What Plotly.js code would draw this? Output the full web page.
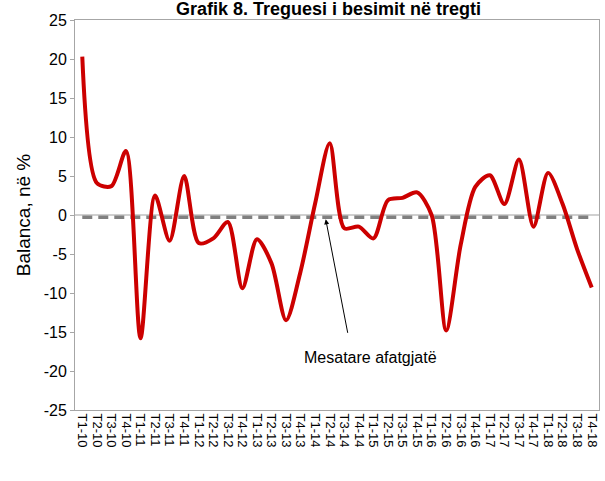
<!DOCTYPE html>
<html>
<head>
<meta charset="utf-8">
<script src="https://cdn.plot.ly/plotly-3.0.1.min.js"></script>
<style>html,body{margin:0;padding:0;background:#fff;}#chart{width:605px;height:481px;}</style>
</head>
<body>
<div id="chart"></div>
<script>
var categories = ["T1-10","T2-10","T3-10","T4-10","T1-11","T2-11","T3-11","T4-11","T1-12","T2-12","T3-12","T4-12",
  "T1-13","T2-13","T3-13","T4-13","T1-14","T2-14","T3-14","T4-14","T1-15","T2-15","T3-15","T4-15",
  "T1-16","T2-16","T3-16","T4-16","T1-17","T2-17","T3-17","T4-17","T1-18","T2-18","T3-18","T4-18"];
var balance = [20.3,4.1,3.7,8.2,-15.8,2.5,-3.3,5.0,-3.6,-3.0,-0.9,-9.4,
  -3.1,-6.2,-13.5,-7.2,1.5,9.2,-1.7,-1.5,-3.0,1.9,2.2,2.9,
  0.0,-14.8,-3.8,3.6,5.1,1.4,7.1,-1.5,5.4,1.4,-4.4,-9.3];
var longTermMean = -0.3;
var yTickVals = [-25,-20,-15,-10,-5,0,5,10,15,20,25];
var yTickText = ["-25","-20","-15","-10","-5","0","5","10","15","20","25"];
var meanLine = categories.map(function(){ return longTermMean; });

var traces = [
  {x: categories, y: meanLine, type: 'scatter', mode: 'lines',
   line: {color: '#808080', width: 3.5, dash: '10px,6px'}, hoverinfo: 'skip'},
  {x: categories, y: balance, type: 'scatter', mode: 'lines',
   line: {color: '#cc0000', width: 4, shape: 'spline', smoothing: 0.8}}
];

var FONT = "'Liberation Sans', Arial, sans-serif";
var layout = {
  width: 605, height: 481,
  margin: {l: 75, r: 6, t: 20, b: 71},
  paper_bgcolor: '#fff', plot_bgcolor: '#fff',
  showlegend: false,
  font: {family: FONT, color: '#000'},
  xaxis: {type: 'category', range: [-0.5, 35.5], tickangle: 90,
          tickmode: 'array', tickvals: categories, ticktext: categories,
          tickfont: {size: 13}, showgrid: false, zeroline: false,
          showline: true, linecolor: '#a6a6a6', mirror: true, ticks: ''},
  yaxis: {range: [-25, 25], tickmode: 'array', tickvals: yTickVals, ticktext: yTickText,
          tickfont: {size: 16}, showgrid: false,
          zeroline: true, zerolinecolor: '#d0d0d0', zerolinewidth: 2,
          showline: true, linecolor: '#a6a6a6', mirror: true, ticks: 'outside', ticklen: 4, tickcolor: '#a6a6a6',
          title: {text: 'Balanca, në %', font: {size: 19}, standoff: 8}},
  annotations: [
    {xref: 'paper', yref: 'paper', x: 0.483, y: 1.027, xanchor: 'center', yanchor: 'middle',
     text: '<b>Grafik 8. Treguesi i besimit në tregti</b>', showarrow: false, font: {size: 18, color: '#000'}},
    {xref: 'x', yref: 'y', x: 16.7, y: longTermMean, text: ' ', showarrow: true,
     axref: 'pixel', ayref: 'pixel', ax: 24, ay: 124, arrowhead: 2, arrowsize: 1, arrowwidth: 1, arrowcolor: '#000', standoff: 2},
    {xref: 'x', yref: 'y', x: 19.8, y: -18.3, text: 'Mesatare afatgjatë', showarrow: false,
     font: {size: 16, color: '#000'}}
  ]
};
Plotly.newPlot('chart', traces, layout, {displayModeBar: false, staticPlot: true});
</script>
</body>
</html>
